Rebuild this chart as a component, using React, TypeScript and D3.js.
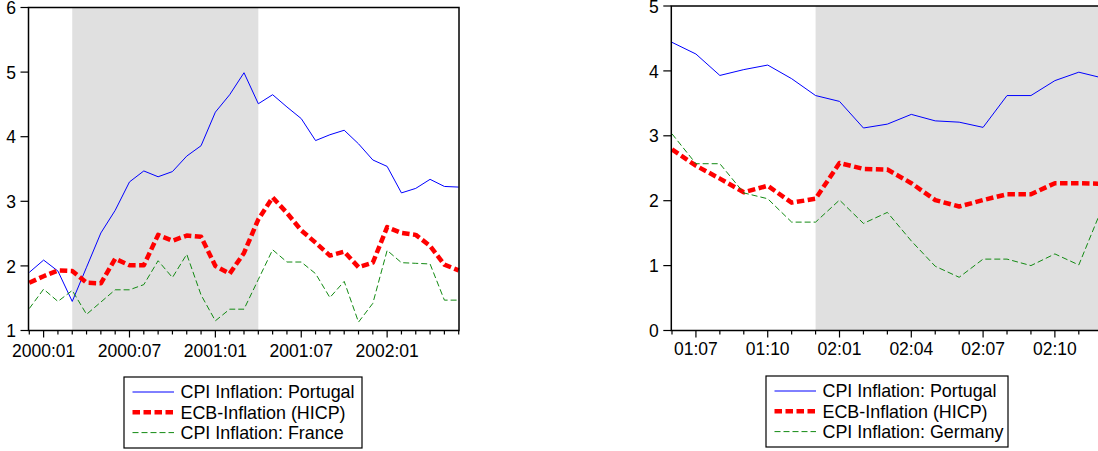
import React from 'react'
import * as d3 from 'd3'

// monthly periods, "YYYY:MM"
const periods = (start: string, count: number) => {
  const [y, m] = start.split(':').map(Number)
  return d3.range(count).map(i => {
    const t = (y * 12 + (m - 1)) + i
    return `${Math.floor(t / 12)}:${String((t % 12) + 1).padStart(2, '0')}`
  })
}

// left panel: 1999:12 .. 2002:06
const leftPeriods = periods('1999:12', 31)
const leftPortugal = [1.90, 2.09, 1.92, 1.45, 1.98, 2.51, 2.86, 3.30, 3.47, 3.38, 3.46, 3.70, 3.86, 4.38, 4.65, 4.99,
  4.51, 4.65, 4.46, 4.28, 3.94, 4.03, 4.10, 3.89, 3.64, 3.54, 3.13, 3.20, 3.34, 3.23, 3.22]
const leftHicp = [1.74, 1.84, 1.93, 1.92, 1.74, 1.73, 2.11, 2.01, 2.01, 2.48, 2.39, 2.47, 2.45, 2.00, 1.88, 2.20,
  2.72, 3.06, 2.82, 2.55, 2.36, 2.16, 2.22, 1.98, 2.05, 2.60, 2.51, 2.48, 2.31, 2.02, 1.93]
const leftFrance = [1.34, 1.64, 1.45, 1.62, 1.25, 1.44, 1.63, 1.63, 1.71, 2.08, 1.82, 2.18, 1.55, 1.15, 1.33, 1.33,
  1.79, 2.25, 2.06, 2.06, 1.88, 1.51, 1.76, 1.13, 1.42, 2.24, 2.05, 2.04, 2.03, 1.47, 1.47]
const leftTickLabels = ['2000:01', '2000:07', '2001:01', '2001:07', '2002:01']
const leftShade = ['2000:03', '2001:04']
const leftYTicks = [1, 2, 3, 4, 5, 6]

// right panel: 2001:06 .. 2002:12
const rightPeriods = periods('2001:06', 19)
const rightPortugal = [4.44, 4.26, 3.93, 4.02, 4.09, 3.88, 3.62, 3.53, 3.12, 3.18, 3.33, 3.23, 3.21, 3.13, 3.62,
  3.62, 3.85, 3.98, 3.89]
const rightHicp = [2.79, 2.54, 2.34, 2.13, 2.23, 1.97, 2.03, 2.58, 2.49, 2.48, 2.27, 2.01, 1.91, 2.01, 2.10, 2.10,
  2.27, 2.27, 2.26]
const rightGermany = [3.03, 2.57, 2.57, 2.12, 2.03, 1.67, 1.67, 2.01, 1.65, 1.82, 1.38, 0.99, 0.82, 1.10, 1.10,
  1.00, 1.18, 1.01, 1.91]
const rightTickLabels = ['01:07', '01:10', '02:01', '02:04', '02:07', '02:10']
const rightShade = ['2001:12', '2002:12']
const rightYTicks = [0, 1, 2, 3, 4, 5]

const FONT = '"Liberation Sans", Arial, Helvetica, sans-serif'
const FS = 17.5

const seriesStyle = {
  portugal: { stroke: '#0000ff', width: 1, dash: undefined },
  hicp: { stroke: '#ff0000', width: 4.5, dash: '7.5,3.5' },
  other: { stroke: '#128a12', width: 1, dash: '6,3' },
}

type Style = { stroke: string; width: number; dash?: string }

const Panel = ({ cats, series, tickLabels, shade, yTicks, yDomain, box, first, last, tickLabelFor, labelY, legend }: any) => {
  const x = d3.scalePoint<string>().domain(cats).range([first, last])
  const y = d3.scaleLinear().domain(yDomain).range([box.bottom, box.top])
  const line = d3.line<number>().x((_, i) => x(cats[i]) as number).y(d => y(d))
  const shadeX0 = x(shade[0]) as number
  const shadeX1 = Math.min(x(shade[1]) as number, box.right)
  return (
    <g>
      <rect x={shadeX0} y={box.top} width={shadeX1 - shadeX0} height={box.bottom - box.top} fill='#e0e0e0' />
      {series.map((s: { values: number[]; style: Style }, i: number) => (
        <path key={i} d={line(s.values) as string} fill='none' stroke={s.style.stroke}
          strokeWidth={s.style.width} strokeDasharray={s.style.dash} strokeLinejoin='round' />
      ))}
      <rect x={box.left} y={box.top} width={box.right - box.left} height={box.bottom - box.top}
        fill='none' stroke='#000' strokeWidth={1.5} />
      {yTicks.map((t: number) => (
        <g key={t}>
          <line x1={box.left - 8} x2={box.left} y1={y(t)} y2={y(t)} stroke='#000' strokeWidth={1.2} />
          <text x={box.left - 12.5} y={y(t) + 6.6} textAnchor='end' fontFamily={FONT} fontSize={FS}>{t}</text>
        </g>
      ))}
      {cats.map((c: string) => {
        const lab = tickLabelFor(c)
        const major = tickLabels.includes(lab)
        return (
          <g key={c}>
            <line x1={x(c)} x2={x(c)} y1={box.bottom} y2={box.bottom + (major ? 7 : 4)} stroke='#000' strokeWidth={1.2} />
            {major && (
              <text x={x(c)} y={labelY} textAnchor='middle' fontFamily={FONT} fontSize={FS}>{lab}</text>
            )}
          </g>
        )
      })}
      <Legend {...legend} />
    </g>
  )
}

const Legend = ({ left, top, width, height, items }: any) => (
  <g>
    <rect x={left} y={top} width={width} height={height} fill='#fff' stroke='#000' strokeWidth={1.2} />
    {items.map((it: { label: string; style: Style }, i: number) => {
      const cy = top + 15 + i * 20.3
      return (
        <g key={i}>
          <line x1={left + 8.5} x2={left + 50} y1={cy} y2={cy} stroke={it.style.stroke}
            strokeWidth={it.style.width} strokeDasharray={it.style.dash} />
          <text x={left + 56.5} y={cy + 6.3} fontFamily={FONT} fontSize={17.9}>{it.label}</text>
        </g>
      )
    })}
  </g>
)

const App = () => (
  <svg width={1098} height={451} style={{ position: 'absolute', left: 0, top: 0, overflow: 'hidden', background: '#fff' }}>
    <Panel
      cats={leftPeriods}
      series={[
        { values: leftPortugal, style: seriesStyle.portugal },
        { values: leftHicp, style: seriesStyle.hicp },
        { values: leftFrance, style: seriesStyle.other },
      ]}
      tickLabels={leftTickLabels}
      tickLabelFor={(c: string) => c}
      shade={leftShade}
      yTicks={leftYTicks}
      yDomain={[1, 6]}
      box={{ left: 28.5, right: 459, top: 7.5, bottom: 330.5 }}
      first={29.3}
      last={458.7}
      labelY={356.5}
      legend={{
        left: 124, top: 377, width: 238, height: 71,
        items: [
          { label: 'CPI Inflation: Portugal', style: seriesStyle.portugal },
          { label: 'ECB-Inflation (HICP)', style: seriesStyle.hicp },
          { label: 'CPI Inflation: France', style: seriesStyle.other },
        ],
      }}
    />
    <Panel
      cats={rightPeriods}
      series={[
        { values: rightPortugal, style: seriesStyle.portugal },
        { values: rightHicp, style: seriesStyle.hicp },
        { values: rightGermany, style: seriesStyle.other },
      ]}
      tickLabels={rightTickLabels}
      tickLabelFor={(c: string) => c.slice(2)}
      shade={rightShade}
      yTicks={rightYTicks}
      yDomain={[0, 5]}
      box={{ left: 671.3, right: 1104, top: 6, bottom: 330.5 }}
      first={672}
      last={672 + 18 * 23.93}
      labelY={355}
      legend={{
        left: 766, top: 376, width: 242, height: 71,
        items: [
          { label: 'CPI Inflation: Portugal', style: seriesStyle.portugal },
          { label: 'ECB-Inflation (HICP)', style: seriesStyle.hicp },
          { label: 'CPI Inflation: Germany', style: seriesStyle.other },
        ],
      }}
    />
  </svg>
)

export default App
